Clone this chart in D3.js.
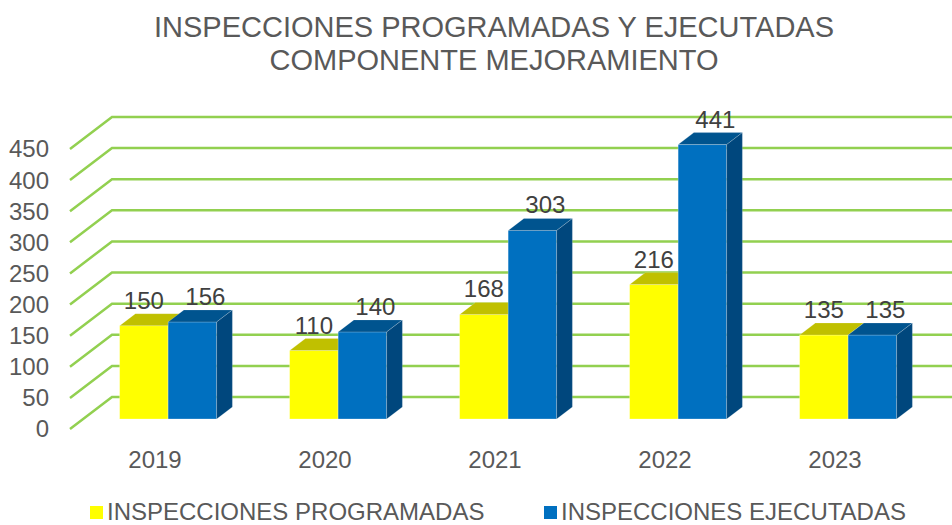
<!DOCTYPE html>
<html>
<head>
<meta charset="utf-8">
<script src="https://cdn.jsdelivr.net/npm/d3@7"></script>
<style>
  html, body { margin: 0; padding: 0; background: #fff; }
  svg { display: block; font-family: "Liberation Sans", Arial, sans-serif; }
</style>
</head>
<body>
<svg id="chart" width="952" height="525"></svg>
<script>
// Inspection counts per year
const years = ["2019", "2020", "2021", "2022", "2023"];
const programadas = [150, 110, 168, 216, 135];
const ejecutadas = [156, 140, 303, 441, 135];
const seriesNames = ["INSPECCIONES PROGRAMADAS", "INSPECCIONES EJECUTADAS"];
const yTicks = [0, 50, 100, 150, 200, 250, 300, 350, 400, 450];
const titleLines = ["INSPECCIONES PROGRAMADAS Y EJECUTADAS", "COMPONENTE MEJORAMIENTO"];

const W = 952, H = 525;
const svg = d3.select("#chart");

// Front plane scales; the 3D floor recedes by (depthX, depthY)
const y = d3.scaleLinear().domain([0, 450]).range([429, 149]);
const x = d3.scaleBand().domain(years).range([70, 920]);
const xs = d3.scaleBand().domain([0, 1]).range([36.5, 133.5]);
const depthX = 42, depthY = -32;
const t0 = 0.3125, t1 = 0.6875;            // bar depth span inside the floor
const ddx = depthX * (t1 - t0), ddy = depthY * (t1 - t0);

const palette = [
  { front: "#FFFF00", top: "#C0C000", side: "#9E9E00" },
  { front: "#0070C0", top: "#00548F", side: "#00477D" }
];
const gridColor = "#92D050";

// Title
svg.append("g").selectAll("text").data(titleLines).join("text")
  .attr("x", 494).attr("y", (d, i) => 37 + i * 33)
  .attr("text-anchor", "middle")
  .attr("font-size", 29).attr("fill", "#595959")
  .text(d => d);

// Gridlines: oblique side wall segment then the back wall line
svg.append("g").selectAll("path").data(yTicks).join("path")
  .attr("d", v => {
    const yf = y(v);
    return `M70,${yf}L${70 + depthX},${yf + depthY}L${W},${yf + depthY}`;
  })
  .attr("fill", "none").attr("stroke", gridColor).attr("stroke-width", 2.5);

// Y tick labels
svg.append("g").selectAll("text").data(yTicks).join("text")
  .attr("x", 49).attr("y", v => y(v))
  .attr("dy", "0.35em")
  .attr("text-anchor", "end")
  .attr("font-size", 24).attr("fill", "#595959")
  .text(v => v);

// X category labels
svg.append("g").selectAll("text").data(years).join("text")
  .attr("x", d => x(d) + x.bandwidth() / 2).attr("y", 468)
  .attr("text-anchor", "middle")
  .attr("font-size", 24).attr("fill", "#595959")
  .text(d => d);

// Bars
const bars = [];
years.forEach((yr, ci) => {
  [programadas[ci], ejecutadas[ci]].forEach((v, si) => {
    bars.push({ yr, si, v });
  });
});

const barG = svg.append("g");
bars.forEach(b => {
  const x0 = x(b.yr) + xs(b.si) + depthX * t0;
  const w = xs.bandwidth();
  const yt = y(b.v) + depthY * t0;
  const yb = y(0) + depthY * t0;
  const c = palette[b.si];
  const g = barG.append("g");
  g.append("rect")
    .attr("x", x0).attr("y", yt).attr("width", w).attr("height", yb - yt)
    .attr("fill", c.front)
    .attr("stroke", "rgba(255,255,255,0.35)").attr("stroke-width", 0.8);
  g.append("path")
    .attr("d", `M${x0},${yt}L${x0 + w},${yt}L${x0 + w + ddx},${yt + ddy}L${x0 + ddx},${yt + ddy}Z`)
    .attr("fill", c.top)
    .attr("stroke", "rgba(255,255,255,0.3)").attr("stroke-width", 0.6);
  g.append("path")
    .attr("d", `M${x0 + w},${yt}L${x0 + w + ddx},${yt + ddy}L${x0 + w + ddx},${yb + ddy}L${x0 + w},${yb}Z`)
    .attr("fill", c.side)
    .attr("stroke", "rgba(255,255,255,0.3)").attr("stroke-width", 0.6);
});

// Value labels above each bar
const labelShift = [0, 13];
svg.append("g").selectAll("text").data(bars).join("text")
  .attr("x", b => x(b.yr) + xs(b.si) + depthX * t0 + xs.bandwidth() / 2 + labelShift[b.si])
  .attr("y", b => y(b.v) + depthY * t1 - 5)
  .attr("text-anchor", "middle")
  .attr("font-size", 24).attr("fill", "#404040")
  .text(b => b.v);

// Legend
const legendX = [90, 544];
const lg = svg.append("g");
seriesNames.forEach((name, i) => {
  lg.append("rect")
    .attr("x", legendX[i]).attr("y", 506).attr("width", 13).attr("height", 13)
    .attr("fill", palette[i].front);
  lg.append("text")
    .attr("x", legendX[i] + 17).attr("y", 520)
    .attr("font-size", 24).attr("fill", "#595959")
    .text(name);
});
</script>
</body>
</html>
